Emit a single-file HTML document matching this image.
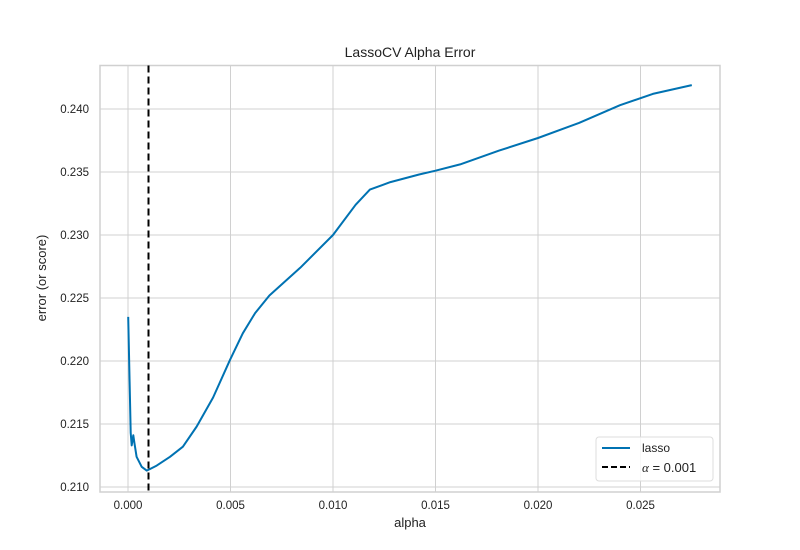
<!DOCTYPE html>
<html><head><meta charset="utf-8"><style>
body{margin:0;background:#fff;}
svg{display:block;font-family:"Liberation Sans","DejaVu Sans",sans-serif;}
</style></head><body>
<svg id="chart" width="800" height="550">
<rect x="0" y="0" width="800" height="550" fill="#fff"/>
<g id="grid"></g>
<g id="axes"></g>
<g id="series"></g>
<text x="410" y="57" text-anchor="middle" font-size="14" fill="#222">LassoCV Alpha Error</text>
<text x="410" y="527" text-anchor="middle" font-size="13" fill="#222">alpha</text>
<text x="46" y="278" text-anchor="middle" font-size="13" fill="#222" transform="rotate(-90 46 278)">error (or score)</text>
<g>
<rect x="596" y="437" width="117" height="44" rx="3" fill="#fff" fill-opacity="0.85" stroke="#ddd"/>
<line x1="602" y1="448" x2="630" y2="448" stroke="#0072b2" stroke-width="2"/>
<text x="642" y="452" font-size="12" fill="#222">lasso</text>
<line x1="602" y1="467" x2="630" y2="467" stroke="#000" stroke-width="2" stroke-dasharray="6,3"/>
<text x="642" y="472" font-size="13" fill="#222"><tspan font-style="italic" font-family="Liberation Serif,serif">α</tspan> = 0.001</text>
</g>
</svg>
<script>
const alphas=[0.00001,0.00013,0.00018,0.00026,0.00031,0.00042,0.00067,0.00091,0.00104,0.0014,0.00205,0.00268,0.00335,0.00415,0.00498,0.0056,0.0062,0.0069,0.0084,0.0100,0.0111,0.0118,0.0128,0.0142,0.0150,0.0162,0.0181,0.0200,0.0220,0.0240,0.0256,0.0275];
const errors=[0.2235,0.2143,0.2133,0.2141,0.2135,0.2124,0.2116,0.2113,0.2114,0.2117,0.2124,0.2132,0.2148,0.2171,0.2201,0.2222,0.2238,0.2252,0.2274,0.2300,0.2324,0.2336,0.2342,0.2348,0.2351,0.2356,0.2367,0.2377,0.2389,0.2403,0.2412,0.2419];
const bestAlpha=0.001;
const xTicks=[0,0.005,0.010,0.015,0.020,0.025];
const xTickLabels=["0.000","0.005","0.010","0.015","0.020","0.025"];
const yTicks=[0.210,0.215,0.220,0.225,0.230,0.235,0.240];
const yTickLabels=["0.210","0.215","0.220","0.225","0.230","0.235","0.240"];
const L=100,R=720,T=65.5,B=492;
const x=v=>128+v*20500;
const y=v=>487-(v-0.210)*12600;
const NS="http://www.w3.org/2000/svg";
function mk(tag,attrs,parent){const e=document.createElementNS(NS,tag);for(const k in attrs)e.setAttribute(k,attrs[k]);parent.appendChild(e);return e;}
const grid=document.getElementById('grid'),axes=document.getElementById('axes'),series=document.getElementById('series');
xTicks.forEach((t,i)=>{
  const g=mk('line',{x1:x(t),x2:x(t),y1:T,y2:B,stroke:'#d0d0d0','stroke-width':1},grid);
  
  
  const tx=mk('text',{x:x(t),y:B+17,'text-anchor':'middle','font-size':11.5,fill:'#222'},axes);
  tx.textContent=xTickLabels[i];
  
  
});
yTicks.forEach((t,i)=>{
  const g=mk('line',{x1:L,x2:R,y1:y(t),y2:y(t),stroke:'#d0d0d0','stroke-width':1},grid);
  
  
  const tx=mk('text',{x:L-11,y:y(t)+4,'text-anchor':'end','font-size':11.5,fill:'#222'},axes);
  tx.textContent=yTickLabels[i];
  
  
});
const frame=mk('rect',{x:L,y:T,width:R-L,height:B-T,fill:'none',stroke:'#d0d0d0','stroke-width':1.5},axes);


const d=alphas.map((a,i)=>(i?'L':'M')+x(a).toFixed(1)+','+y(errors[i]).toFixed(1)).join(' ');
const path=mk('path',{d:d,fill:'none',stroke:'#0072b2','stroke-width':2,'stroke-linejoin':'round'},series);


const vl=mk('line',{x1:x(bestAlpha),x2:x(bestAlpha),y1:T,y2:B,stroke:'#000','stroke-width':2,'stroke-dasharray':'7,4'},series);


</script>
</body></html>
